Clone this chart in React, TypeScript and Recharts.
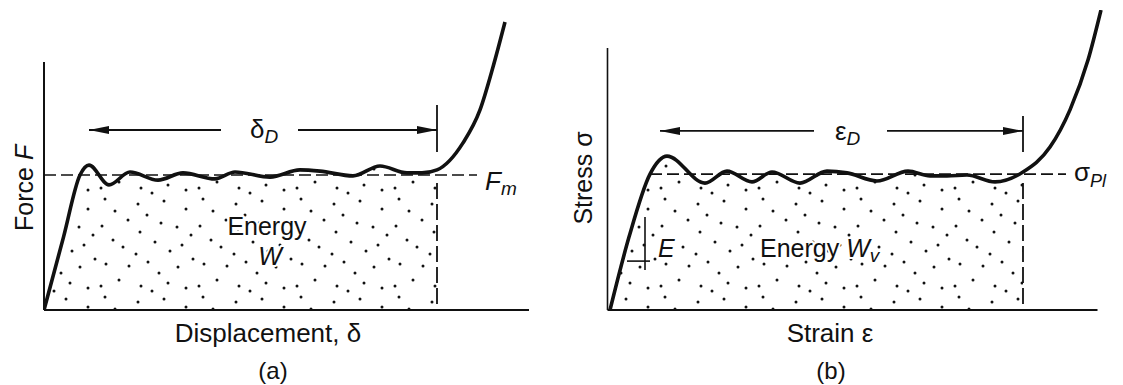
import React from "react";
import { ComposedChart, Area, Line, XAxis, YAxis, ReferenceLine, ReferenceDot } from "recharts";

const FONT = '"Liberation Sans", Arial, Helvetica, sans-serif';
const INK = "#111";

// (a) force vs displacement, schematic units
const dispA = [0, 3.9, 7.2, 9.0, 13.0, 17.2, 22.8, 27.8, 34.2, 38.2, 45.2, 51.2, 55.2, 61.8, 67.2, 72.6, 75.6, 78.6, 83.8, 87.2, 89.8, 92.2];
const forceA = [0, 24.3, 45.0, 48.3, 41.7, 46.0, 43.3, 45.7, 43.7, 46.0, 44.3, 46.7, 46.3, 44.7, 48.0, 45.7, 45.7, 46.7, 55.7, 66.7, 81.0, 96.0];
const deltaD = 78.6;
const forceM = 45;

// (b) stress vs strain
const strainB = [0.5, 4.3, 8.5, 11.9, 19.5, 23.9, 28.9, 32.9, 38.5, 43.9, 47.9, 53.9, 60.1, 64.5, 67.9, 71.9, 77.5, 83.1, 88.5, 92.5, 96.1, 98.7];
const stressB = [0, 24.3, 45.3, 51.3, 42.3, 46.3, 42.7, 46.0, 42.3, 46.3, 45.7, 43.0, 46.3, 44.7, 44.7, 45.0, 42.7, 46.0, 54.3, 66.7, 83.3, 100];
const epsD = 83.1;
const sigmaPl = 45.3;

const tableA = dispA.map((x, i) => ({ x, f: forceA[i], w: x <= deltaD ? forceA[i] : null }));
const tableB = strainB.map((x, i) => ({ x, s: stressB[i], w: x <= epsD ? stressB[i] : null }));

// dot positions inside one stipple tile (hand jittered)
const STIPPLE = [
  [7, 3], [17, 15], [40, 8], [49, 19], [66, 5], [88, 13],
  [4, 30], [30, 24], [42, 36], [63, 27], [79, 31], [93, 39],
  [15, 44], [25, 51], [38, 58], [57, 46], [72, 55], [84, 49],
  [8, 68], [31, 70], [50, 66], [61, 77], [80, 71], [95, 63],
  [3, 90], [21, 84], [43, 90], [54, 95], [70, 87], [88, 92],
];

const stipple = (id: string) => (
  <defs>
    <pattern id={id} width={98} height={98} patternUnits="userSpaceOnUse">
      {STIPPLE.map(([cx, cy], i) => (
        <circle key={i} cx={cx} cy={cy} r={1.5} fill={INK} />
      ))}
    </pattern>
  </defs>
);

const head = (dir: "left" | "right") => (p: any) => {
  const s = dir === "left" ? 1 : -1;
  return <polygon points={`${p.cx},${p.cy} ${p.cx + s * 20},${p.cy - 4} ${p.cx + s * 20},${p.cy + 4}`} fill={INK} />;
};

const txt = (content: React.ReactNode, extra: any = {}) => (p: any) => (
  <text x={p.cx} y={p.cy} fontFamily={FONT} fontSize={26} fill={INK} textAnchor="middle" {...extra}>
    {content}
  </text>
);

// white halo so the stipple does not run through the letters
const halo = { stroke: "#fff", strokeWidth: 4, paintOrder: "stroke", strokeLinejoin: "round" };

const vtxt = (content: React.ReactNode) => (p: any) => (
  <text
    x={p.cx}
    y={p.cy}
    fontFamily={FONT}
    fontSize={25}
    fill={INK}
    textAnchor="middle"
    dominantBaseline="central"
    transform={`rotate(-90 ${p.cx} ${p.cy})`}
  >
    {content}
  </text>
);

const dash = { stroke: INK, strokeWidth: 1.6, strokeDasharray: "12 5" };

const PanelA = () => (
  <ComposedChart width={560} height={385} data={tableA} margin={{ top: 10, right: 16, bottom: 75, left: 44 }}>
    {stipple("dotsA")}
    <XAxis type="number" dataKey="x" domain={[0, 100]} allowDataOverflow hide />
    <YAxis type="number" domain={[0, 100]} allowDataOverflow hide />
    <Area dataKey="w" type="monotone" fill="url(#dotsA)" fillOpacity={1} stroke="none" isAnimationActive={false} />
    <ReferenceLine segment={[{ x: 0, y: forceM }, { x: 86.6, y: forceM }]} {...dash} />
    <ReferenceLine segment={[{ x: deltaD, y: 42.3 }, { x: deltaD, y: 1.7 }]} stroke={INK} strokeWidth={1.8} strokeDasharray="16 5" />
    <ReferenceLine segment={[{ x: deltaD, y: 68.3 }, { x: deltaD, y: 52.7 }]} stroke={INK} strokeWidth={1.8} />
    <ReferenceLine segment={[{ x: 0, y: 0 }, { x: 97, y: 0 }]} stroke={INK} strokeWidth={2} />
    <ReferenceLine segment={[{ x: 0, y: 0 }, { x: 0, y: 82.7 }]} stroke={INK} strokeWidth={2} />
    <ReferenceLine segment={[{ x: 9.0, y: 60 }, { x: 35.4, y: 60 }]} stroke={INK} strokeWidth={1.8} />
    <ReferenceLine segment={[{ x: 50.8, y: 60 }, { x: deltaD, y: 60 }]} stroke={INK} strokeWidth={1.8} />
    <Line dataKey="f" type="monotone" stroke={INK} strokeWidth={3.6} dot={false} isAnimationActive={false} />
    <ReferenceDot x={9.0} y={60} r={0} shape={head("left")} />
    <ReferenceDot x={deltaD} y={60} r={0} shape={head("right")} />
    <ReferenceDot x={41.2} y={57.3} r={0} shape={txt(<>δ<tspan fontStyle="italic" fontSize={19} dy={5}>D</tspan></>, { textAnchor: "start" })} />
    <ReferenceDot x={88.2} y={40} r={0} ifOverflow="visible" shape={txt(<><tspan fontStyle="italic">F</tspan><tspan fontStyle="italic" fontSize={19} dy={5}>m</tspan></>, { textAnchor: "start" })} />
    <ReferenceDot x={44.6} y={25} r={0} shape={txt("Energy", { fontSize: 25, ...halo })} />
    <ReferenceDot x={45.2} y={15} r={0} shape={txt("W", { fontSize: 25, fontStyle: "italic", ...halo })} />
    <ReferenceDot x={44.8} y={-10.7} r={0} ifOverflow="visible" shape={txt("Displacement, δ")} />
    <ReferenceDot x={45.8} y={-23} r={0} ifOverflow="visible" shape={txt("(a)", { fontSize: 24 })} />
    <ReferenceDot x={-4} y={40.7} r={0} ifOverflow="visible" shape={vtxt(<>Force <tspan fontStyle="italic">F</tspan></>)} />
  </ComposedChart>
);

const PanelB = () => (
  <ComposedChart width={563} height={385} data={tableB} margin={{ top: 10, right: 15.5, bottom: 75, left: 47.5 }}>
    {stipple("dotsB")}
    <XAxis type="number" dataKey="x" domain={[0, 100]} allowDataOverflow hide />
    <YAxis type="number" domain={[0, 100]} allowDataOverflow hide />
    <Area dataKey="w" type="monotone" fill="url(#dotsB)" fillOpacity={1} stroke="none" isAnimationActive={false} />
    <ReferenceLine segment={[{ x: 8.5, y: sigmaPl }, { x: 91.7, y: sigmaPl }]} {...dash} />
    <ReferenceLine segment={[{ x: epsD, y: 42.3 }, { x: epsD, y: 0 }]} stroke={INK} strokeWidth={1.8} strokeDasharray="16 5" />
    <ReferenceLine segment={[{ x: epsD, y: 64.7 }, { x: epsD, y: 52.7 }]} stroke={INK} strokeWidth={1.8} />
    <ReferenceLine segment={[{ x: 0, y: 0 }, { x: 98, y: 0 }]} stroke={INK} strokeWidth={2} />
    <ReferenceLine segment={[{ x: 0, y: 0 }, { x: 0, y: 87.3 }]} stroke={INK} strokeWidth={1.6} />
    <ReferenceLine segment={[{ x: 10.5, y: 59.7 }, { x: 41.3, y: 59.7 }]} stroke={INK} strokeWidth={1.8} />
    <ReferenceLine segment={[{ x: 55.9, y: 59.7 }, { x: epsD, y: 59.7 }]} stroke={INK} strokeWidth={1.8} />
    <ReferenceLine segment={[{ x: 7.5, y: 31 }, { x: 7.5, y: 13.3 }]} stroke={INK} strokeWidth={1.6} />
    <ReferenceLine segment={[{ x: 3.9, y: 16.3 }, { x: 8.5, y: 16.3 }]} stroke={INK} strokeWidth={1.6} />
    <Line dataKey="s" type="monotone" stroke={INK} strokeWidth={3.6} dot={false} isAnimationActive={false} />
    <ReferenceDot x={10.5} y={59.7} r={0} shape={head("left")} />
    <ReferenceDot x={epsD} y={59.7} r={0} shape={head("right")} />
    <ReferenceDot x={45.5} y={56.7} r={0} shape={txt(<>ε<tspan fontStyle="italic" fontSize={19} dy={5}>D</tspan></>, { textAnchor: "start" })} />
    <ReferenceDot x={93.3} y={43} r={0} ifOverflow="visible" shape={txt(<>σ<tspan fontStyle="italic" fontSize={18} dy={6}>Pl</tspan></>, { textAnchor: "start" })} />
    <ReferenceDot x={10.1} y={17.7} r={0} shape={txt("E", { fontSize: 25, fontStyle: "italic", textAnchor: "start", ...halo })} />
    <ReferenceDot x={30.5} y={17.7} r={0} shape={txt(<>Energy <tspan fontStyle="italic">W</tspan><tspan fontStyle="italic" fontSize={19} dy={5}>v</tspan></>, { fontSize: 25, textAnchor: "start", ...halo })} />
    <ReferenceDot x={44.5} y={-10.7} r={0} ifOverflow="visible" shape={txt("Strain ε")} />
    <ReferenceDot x={44.7} y={-23} r={0} ifOverflow="visible" shape={txt("(b)", { fontSize: 24 })} />
    <ReferenceDot x={-4.9} y={44} r={0} ifOverflow="visible" shape={vtxt("Stress σ")} />
  </ComposedChart>
);

export default function App() {
  return (
    <div style={{ position: "absolute", left: 0, top: 0, width: 1123, height: 385, display: "flex", background: "#fff" }}>
      <PanelA />
      <PanelB />
    </div>
  );
}
